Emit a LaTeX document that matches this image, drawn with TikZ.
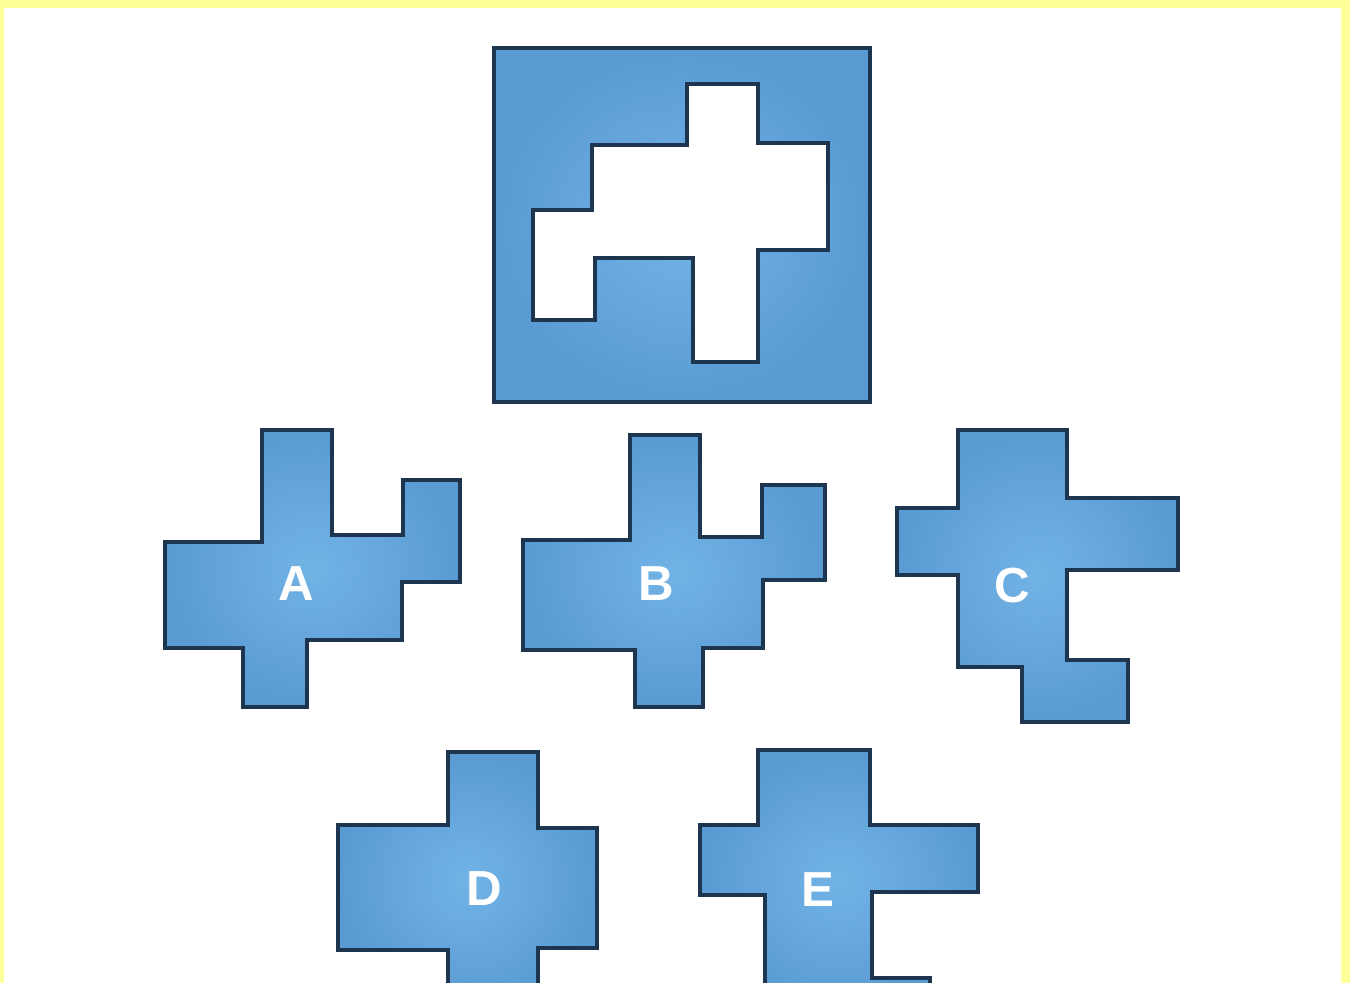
\documentclass[tikz,border=0pt]{standalone}
\usepackage{fontspec}
\setmainfont{Liberation Sans}
\usepackage{xcolor}
\usepackage{tikz}
\definecolor{piezaazul}{HTML}{5A9AD3}
\definecolor{piezaclaro}{HTML}{72B3E6}
\definecolor{bordeazul}{HTML}{1E3550}
\definecolor{margenamarillo}{HTML}{FFFF99}

\begin{document}
\begin{tikzpicture}[
    x=0.01cm, y=-0.01cm,
    pieza/.style={draw=bordeazul, line width=1.1pt, line join=miter,
        inner color=piezaclaro, outer color=piezaazul},
    letra/.style={font=\bfseries\fontsize{14}{14}\selectfont, text=white}
]
\useasboundingbox (0,0) rectangle (1350,983);
\clip (0,0) rectangle (1350,983);
% yellow frame
\fill[margenamarillo] (0,0) rectangle (1350,983);
\fill[white] (4,8) rectangle (1341,990);

% top board with the hole
\path[pieza, even odd rule]
    (494,48) rectangle (870,402)
    (687,84) -- (758,84) -- (758,143) -- (828,143) -- (828,250) -- (758,250)
    -- (758,362) -- (693,362) -- (693,258) -- (595,258) -- (595,320)
    -- (533,320) -- (533,210) -- (592,210) -- (592,145) -- (687,145) -- cycle;

% piece A
\path[pieza] (262,430) -- (332,430) -- (332,535) -- (403,535) -- (403,480)
    -- (460,480) -- (460,582) -- (402,582) -- (402,640) -- (307,640)
    -- (307,707) -- (243,707) -- (243,648) -- (165,648) -- (165,542)
    -- (262,542) -- cycle;
\node[letra] (labelA) at (296,584) {A};

% piece B
\path[pieza] (630,435) -- (700,435) -- (700,537) -- (762,537) -- (762,485)
    -- (825,485) -- (825,580) -- (763,580) -- (763,648) -- (703,648)
    -- (703,707) -- (635,707) -- (635,650) -- (523,650) -- (523,540)
    -- (630,540) -- cycle;
\node[letra] (labelB) at (656,584) {B};

% piece C
\path[pieza] (958,430) -- (1067,430) -- (1067,498) -- (1178,498) -- (1178,570)
    -- (1067,570) -- (1067,660) -- (1128,660) -- (1128,722) -- (1022,722)
    -- (1022,667) -- (958,667) -- (958,575) -- (897,575) -- (897,508)
    -- (958,508) -- cycle;
\node[letra] (labelC) at (1012,586) {C};

% piece D
\path[pieza] (448,752) -- (538,752) -- (538,828) -- (597,828) -- (597,948)
    -- (538,948) -- (538,1010) -- (448,1010) -- (448,950) -- (338,950)
    -- (338,825) -- (448,825) -- cycle;
\node[letra] (labelD) at (484,889) {D};

% piece E
\path[pieza] (758,750) -- (870,750) -- (870,825) -- (978,825) -- (978,892)
    -- (872,892) -- (872,978) -- (930,978) -- (930,1010) -- (765,1010)
    -- (765,895) -- (700,895) -- (700,825) -- (758,825) -- cycle;
\node[letra] (labelE) at (818,890) {E};
\end{tikzpicture}
\end{document}
